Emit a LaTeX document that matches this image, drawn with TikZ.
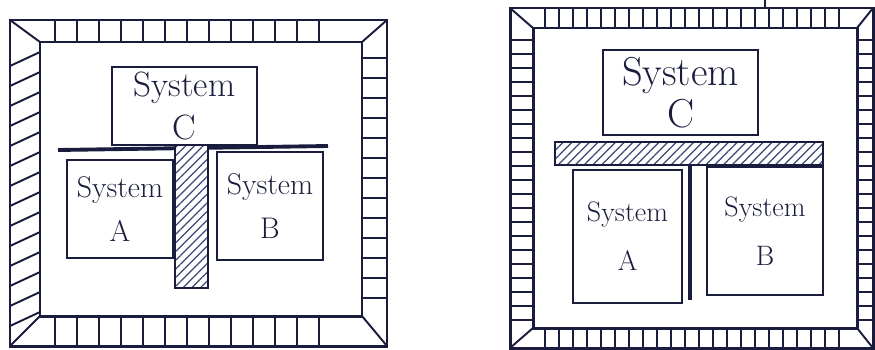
\documentclass[tikz,border=0pt]{standalone}
\usepackage{tikz}
\usetikzlibrary{patterns.meta}
\definecolor{ink}{RGB}{25,28,60}
\definecolor{hatchink}{RGB}{60,70,120}

\begin{document}
\begin{tikzpicture}[x=0.02cm,y=-0.02cm,
  ink/.style={draw=ink,line width=1.7pt},
  hatch/.style={draw=ink,line width=1.1pt},
  sysbox/.style={draw=ink,line width=1.2pt,rectangle,align=center,inner sep=0pt,
    text=ink,font=\fontsize{17}{25}\selectfont},
  bigbox/.style={sysbox,font=\fontsize{20}{24}\selectfont},
  wallbar/.style={draw=ink,line width=1.2pt,rectangle,inner sep=0pt,preaction={fill=white},
    pattern={Lines[angle=45,distance=3.5pt,line width=0.7pt]},pattern color=hatchink}]
\useasboundingbox (0,0) rectangle (875,349);

% left frame
\draw[ink] (10,20) rectangle (387,346);
\draw[ink] (40,42) rectangle (362,316);
\foreach \x in {55,77,...,340} \draw[hatch] (\x,20) -- (\x,42);
\foreach \x in {55,77,...,340} \draw[hatch] (\x,316) -- (\x,346);
\foreach \y in {58,78,...,300} \draw[hatch] (362,\y) -- (387,\y);
\foreach \y in {52,72,...,320} \draw[hatch] (10,\y+14) -- (40,\y);
\draw[hatch] (10,20) -- (40,42);
\draw[hatch] (387,20) -- (362,42);
\draw[hatch] (10,346) -- (40,316);
\draw[hatch] (387,346) -- (362,316);

% left systems
\node[bigbox, minimum width=2.9cm, minimum height=1.56cm] (C1) at (184.5,106) {System\\C};
\coordinate (l1) at (58,150);
\coordinate (r1) at (328,146);
\draw[draw=ink,line width=2.2pt] (l1) -- (r1);
\node[wallbar, minimum width=0.66cm, minimum height=2.86cm] (W1) at (191.5,216.5) {};
\node[sysbox, minimum width=2.12cm, minimum height=1.96cm] (A1) at (120,209) {System\\A};
\node[sysbox, minimum width=2.12cm, minimum height=2.16cm] (B1) at (270,206) {System\\B};

% right frame
\draw[ink] (510,8) rectangle (873,348);
\draw[ink] (533,28) rectangle (857,328);
\foreach \x in {545,559,...,850} \draw[hatch] (\x,8) -- (\x,28);
\foreach \x in {545,559,...,850} \draw[hatch] (\x,328) -- (\x,348);
\foreach \y in {40,54,...,320} \draw[hatch] (510,\y) -- (533,\y);
\foreach \y in {40,54,...,320} \draw[hatch] (857,\y) -- (873,\y);
\draw[hatch] (510,8) -- (533,28);
\draw[hatch] (873,8) -- (857,28);
\draw[hatch] (510,348) -- (533,328);
\draw[hatch] (873,348) -- (857,328);
\coordinate (t0) at (765,0);
\coordinate (t1) at (765,8);
\draw[draw=ink,line width=0.8pt] (t0) -- (t1);

% right systems
\node[bigbox, minimum width=3.1cm, minimum height=1.7cm, font=\fontsize{23}{24}\selectfont] (C2) at (680.5,92.5) {System\\C};
\node[wallbar, minimum width=5.36cm, minimum height=0.46cm] (W2) at (689,153.5) {};
\coordinate (w2a) at (690,165);
\coordinate (w2b) at (690,300);
\draw[draw=ink,line width=2.4pt] (w2a) -- (w2b);
\node[sysbox, minimum width=2.18cm, minimum height=2.66cm, font=\fontsize{16}{28}\selectfont] (A2) at (627.5,236.5) {System\\A};
\node[sysbox, minimum width=2.32cm, minimum height=2.56cm, font=\fontsize{16}{28}\selectfont] (B2) at (765,231) {System\\B};
\end{tikzpicture}
\end{document}
